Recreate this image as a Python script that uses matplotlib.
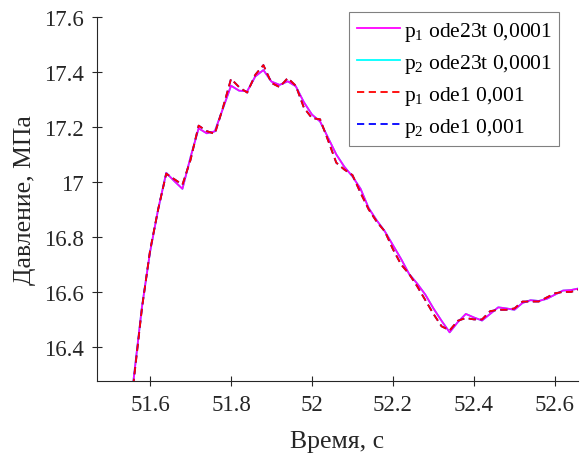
import numpy as np
import matplotlib
matplotlib.use("Agg")
import matplotlib.pyplot as plt

plt.rcParams['font.family'] = ['Liberation Serif', 'DejaVu Serif']
plt.rcParams['mathtext.fontset'] = 'custom'
plt.rcParams['mathtext.rm'] = 'Liberation Serif'
plt.rcParams['mathtext.it'] = 'Liberation Serif'

# время, с (шаг 0.02)
t = np.round(np.arange(51.54, 52.661, 0.02), 2)

# p1, ode23t 0,0001
p1_ode23t = [16.02, 16.29, 16.545, 16.745, 16.90, 17.033, 17.003, 16.975, 17.09, 17.195,
             17.177, 17.184, 17.267, 17.35, 17.332, 17.33, 17.384, 17.407, 17.365, 17.353,
             17.366, 17.348, 17.29, 17.245, 17.22, 17.16, 17.10, 17.055, 17.02, 16.975,
             16.905, 16.86, 16.82, 16.77, 16.72, 16.665, 16.63, 16.59, 16.54, 16.495,
             16.453, 16.49, 16.52, 16.507, 16.496, 16.52, 16.544, 16.54, 16.535, 16.56,
             16.57, 16.567, 16.575, 16.59, 16.605, 16.607, 16.613]

# p1, ode1 0,001
p1_ode1 = [16.00, 16.28, 16.54, 16.75, 16.90, 17.03, 17.01, 16.99, 17.08, 17.205,
           17.185, 17.175, 17.27, 17.375, 17.345, 17.325, 17.39, 17.425, 17.36, 17.345,
           17.378, 17.35, 17.27, 17.232, 17.228, 17.15, 17.07, 17.045, 17.025, 16.96,
           16.90, 16.855, 16.82, 16.755, 16.70, 16.665, 16.62, 16.57, 16.52, 16.475,
           16.46, 16.495, 16.505, 16.50, 16.50, 16.53, 16.535, 16.535, 16.54, 16.565,
           16.565, 16.565, 16.58, 16.595, 16.60, 16.60, 16.61]

# p2 lies under p1 in this window
p2_ode23t = list(p1_ode23t)
p2_ode1 = list(p1_ode1)

xticks = [51.6, 51.8, 52.0, 52.2, 52.4, 52.6]
xticklabels = ['51.6', '51.8', '52', '52.2', '52.4', '52.6']
yticks = [16.4, 16.6, 16.8, 17.0, 17.2, 17.4, 17.6]
yticklabels = ['16.4', '16.6', '16.8', '17', '17.2', '17.4', '17.6']

fig = plt.figure(figsize=(5.84, 4.56), dpi=100)
ax = fig.add_axes([97/584, 1-382/456, 481/584, 364/456])

gray = '#262626'
ax.plot(t, p2_ode23t, color='#00FFFF', lw=1.3, label=r'$\mathregular{p_2}$ ode23t 0,0001', zorder=2)
ax.plot(t, p1_ode23t, color='#FF00FF', lw=1.3, label=r'$\mathregular{p_1}$ ode23t 0,0001', zorder=3)
ax.plot(t, p2_ode1, color='#0000FF', lw=1.3, ls=(0, (4, 2.5)), label=r'$\mathregular{p_2}$ ode1 0,001', zorder=4)
ax.plot(t, p1_ode1, color='#FF0000', lw=1.3, ls=(0, (4, 2.5)), label=r'$\mathregular{p_1}$ ode1 0,001', zorder=5)

ax.set_xlim(51.469, 52.657)
ax.set_ylim(16.276, 17.6)
ax.set_xticks(xticks)
ax.set_xticklabels(xticklabels)
ax.set_yticks(yticks)
ax.set_yticklabels(yticklabels)
ax.tick_params(direction='inout', length=7, width=0.8, colors=gray, labelsize=16.5, pad=6)
for s in ['top', 'right']:
    ax.spines[s].set_visible(False)
for s in ['left', 'bottom']:
    ax.spines[s].set_color(gray)
    ax.spines[s].set_linewidth(0.8)

ax.set_xlabel('Время, с', fontsize=18.5, color=gray, labelpad=11)
ax.set_ylabel('Давление, МПа', fontsize=18.5, color=gray, labelpad=6)

h, l = ax.get_legend_handles_labels()
order = [1, 0, 3, 2]
leg = ax.legend([h[i] for i in order], [l[i] for i in order],
                loc='upper left', bbox_to_anchor=(349/584, 1-13/456),
                bbox_transform=fig.transFigure, borderaxespad=0,
                fontsize=15.5, fancybox=False, framealpha=1, edgecolor='#808080',
                handlelength=2.0, handletextpad=0.2, labelspacing=0.42,
                borderpad=0.35)
leg.get_frame().set_linewidth(0.8)

fig.savefig('out.png', dpi=100)
